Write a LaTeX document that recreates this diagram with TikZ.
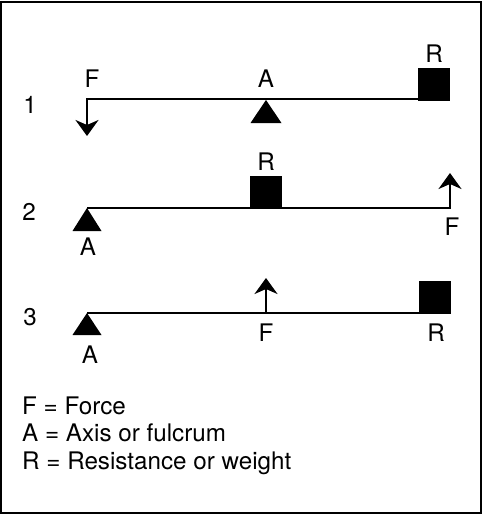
\documentclass[tikz,border=0pt]{standalone}
\usepackage{fontspec}
\setmainfont{TeX Gyre Heros}
\usepackage{tikz}
\usetikzlibrary{arrows.meta,positioning,calc}

\begin{document}
\begin{tikzpicture}[x=1pt,y=-1pt,
  every node/.style={font=\fontsize{24.2}{27.5}\selectfont, inner sep=0pt},
  lever/.style={line width=2.2pt},
  push/.style={lever,-{Stealth[length=16pt,width=23pt,inset=5pt]}},
  load/.style={fill, minimum width=32pt, minimum height=33pt, anchor=south west},
  key/.style={anchor=base west}]
\useasboundingbox (0,0) rectangle (482,515);
\draw[line width=1.5pt] (0.8,2) rectangle (481,513);

% lever 1
\node[load] (R1) at (418,101) {};
\coordinate (E1) at (87,99);
\coordinate (T1) at (87,136);
\coordinate (P1) at (266,100);
\draw[push] (R1.west |- E1) -- (E1) -- (T1);
\fill (P1) -- ++(-15.5,23) -- ++(31,0) -- cycle;
\node (n1) at (30,105) {1};
\node (F1) at (92,79) {F};
\node (A1) at (266,79) {A};
\node (L1) [above=5pt of R1] {R};

% lever 2
\node[load] (R2) at (250,209) {};
\coordinate (E2) at (87,208);
\coordinate (G2) at (450,208);
\coordinate (T2) at (450,173);
\draw[push] (E2) -- (G2) -- (T2);
\fill (E2) -- ++(-14.5,23) -- ++(29,0) -- cycle;
\node (n2) at (29,212) {2};
\node (A2) at (88,247) {A};
\node (F2) at (452,227) {F};
\node (L2) [above=5pt of R2] {R};

% lever 3
\node[load] (R3) at (419,314) {};
\coordinate (E3) at (87,313);
\coordinate (P3) at (266,313);
\coordinate (T3) at (266,278);
\draw[lever] (E3) -- (R3.west |- E3);
\draw[push] (P3) -- (T3);
\fill (E3) -- ++(-14.5,22) -- ++(29,0) -- cycle;
\node (n3) at (30,317) {3};
\node (A3) at (90,355) {A};
\node (F3) at (266,333) {F};
\node (L3) at (436,333) {R};

% key
\node[key] (kF) at (22,414) {F = Force};
\node[key] (kA) at (22,441.5) {A = Axis or fulcrum};
\node[key] (kR) at (22,469) {R = Resistance or weight};
\end{tikzpicture}
\end{document}
